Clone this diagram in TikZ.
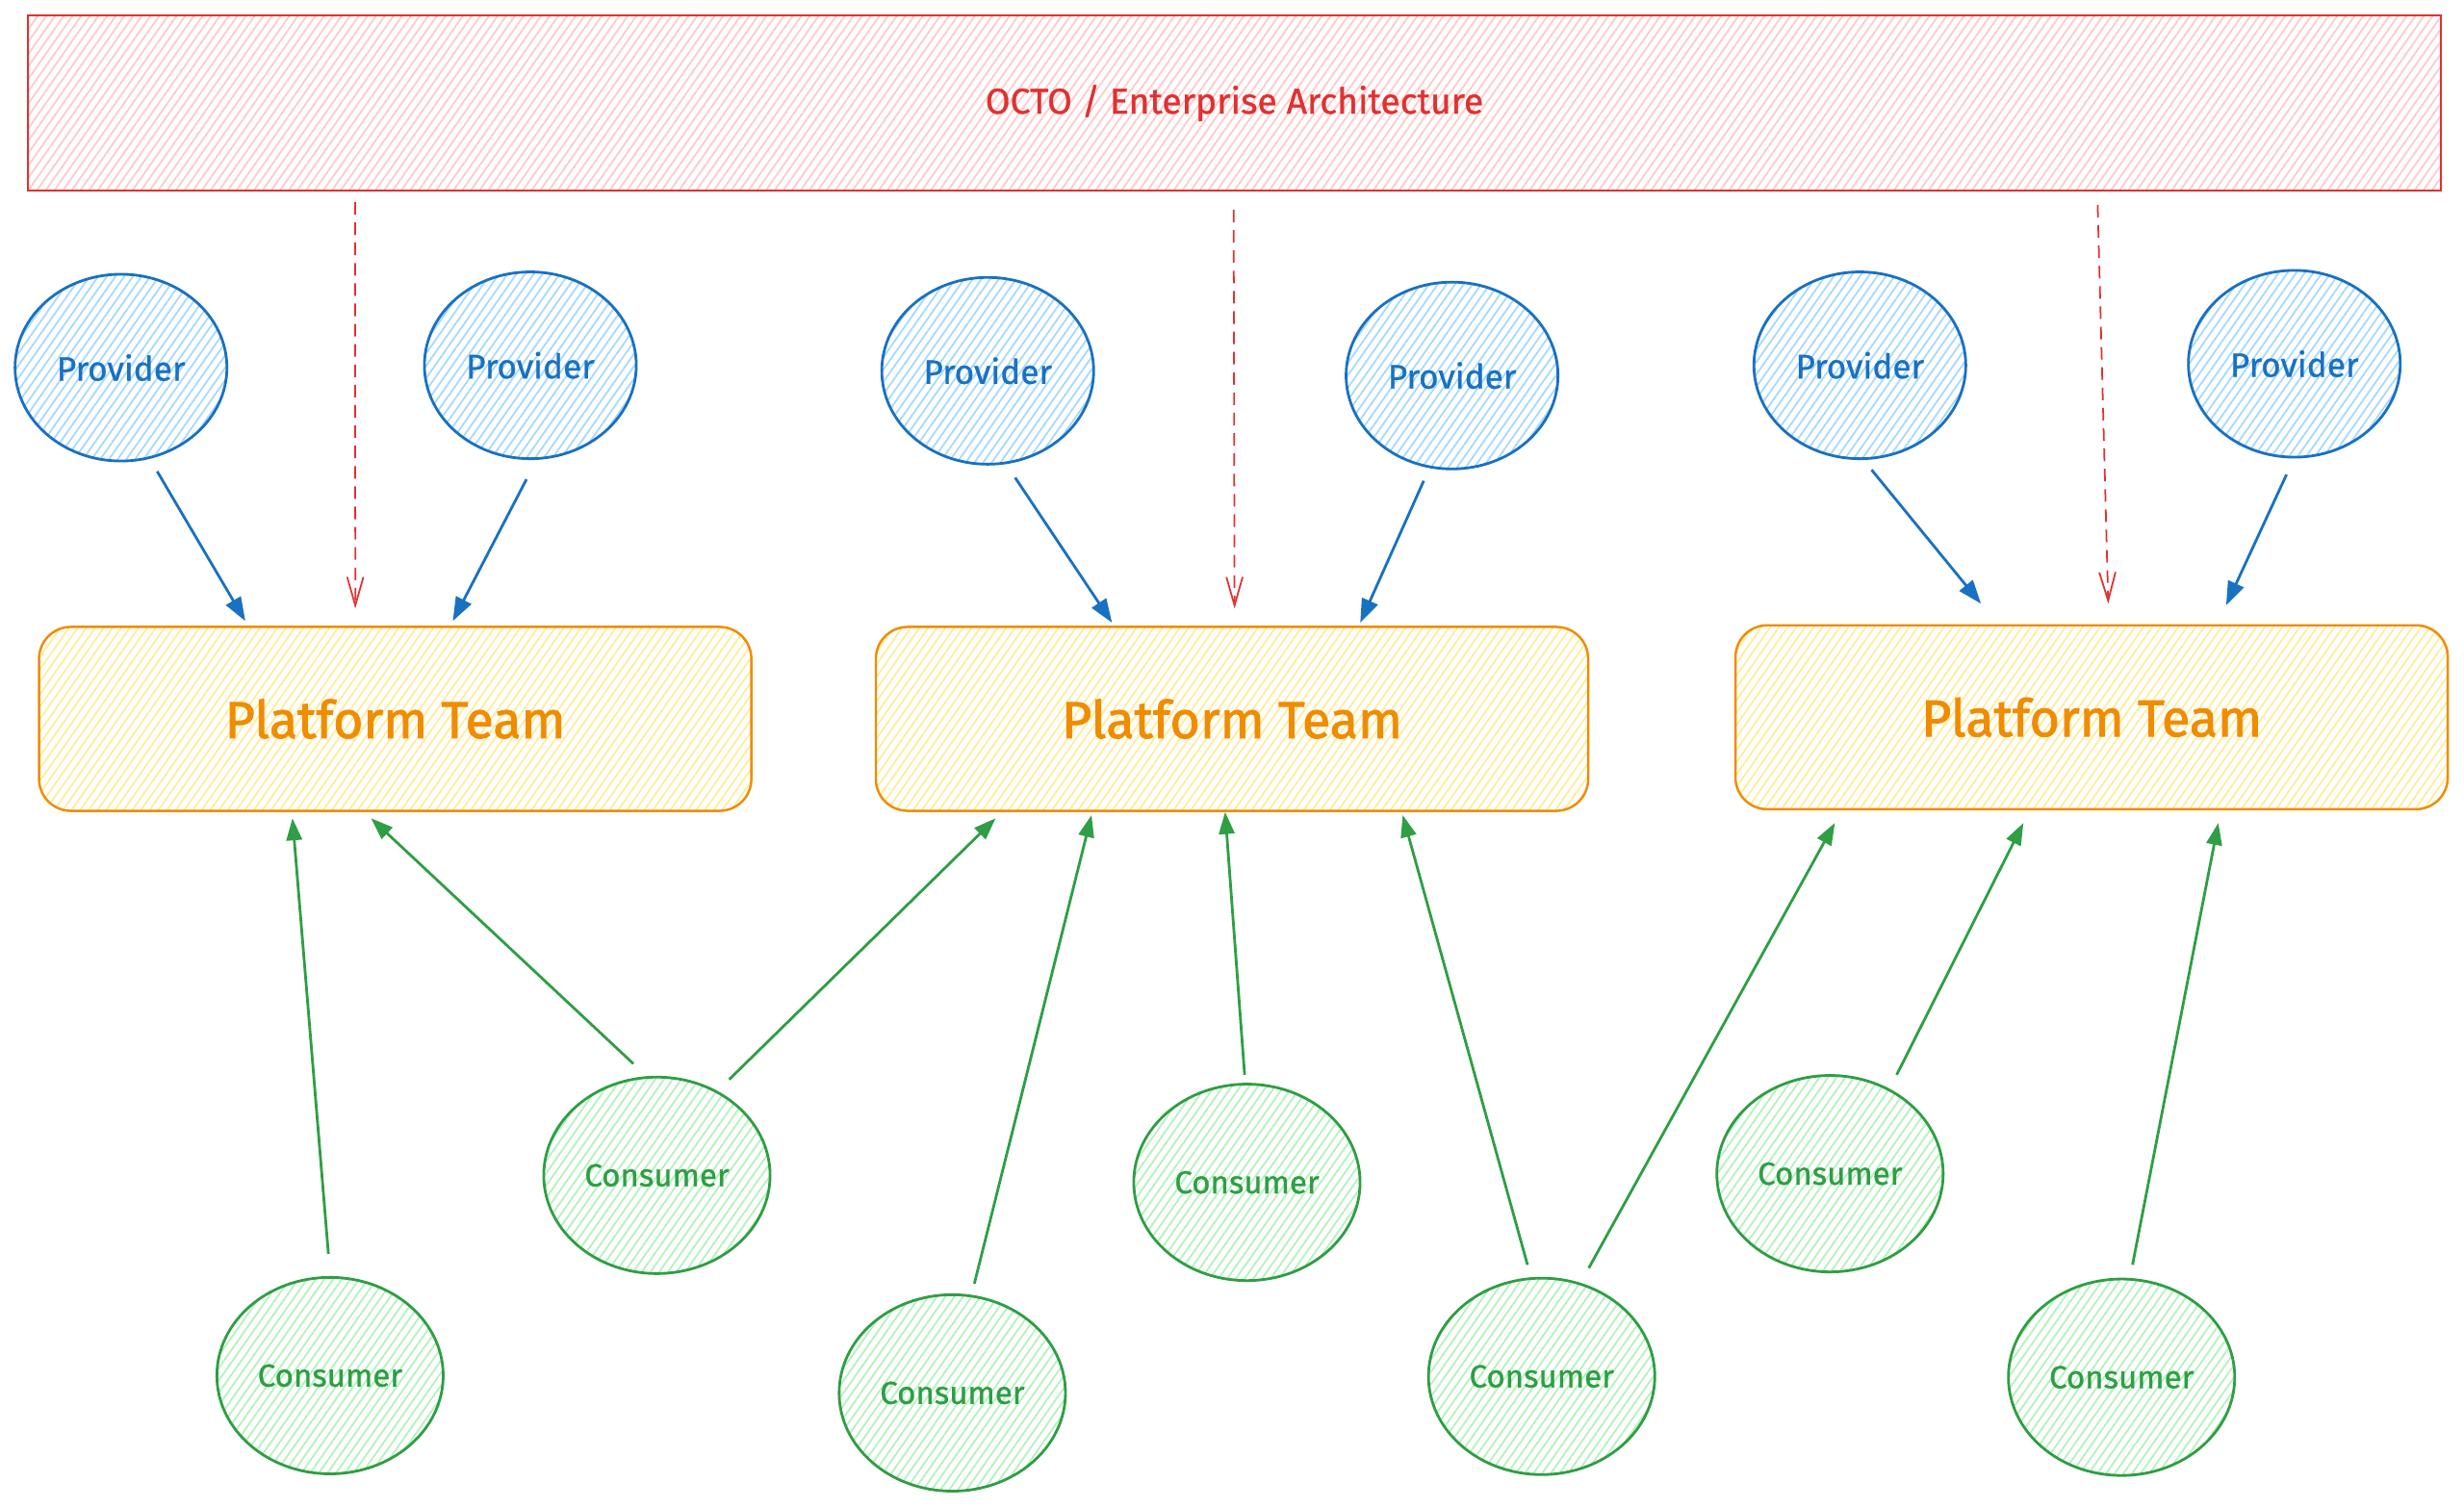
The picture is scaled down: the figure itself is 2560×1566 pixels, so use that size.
\documentclass[tikz,border=0pt]{standalone}
\usepackage{fontspec}
\setmainfont{Fira Sans}
\newfontfamily\labelfont{Fira Sans}[FakeBold=0.9]
\newfontfamily\teamfont{Fira Sans}[FakeBold=1.6]
\usetikzlibrary{calc,shapes.geometric,arrows.meta,patterns.meta}
\definecolor{redS}{HTML}{E03131}
\definecolor{redF}{HTML}{FFC9C9}
\definecolor{blueS}{HTML}{1971C2}
\definecolor{blueF}{HTML}{A5D8FF}
\definecolor{orS}{HTML}{F08C00}
\definecolor{orF}{HTML}{FFEC99}
\definecolor{grS}{HTML}{2F9E44}
\definecolor{grF}{HTML}{B2F2BB}
\begin{document}
\begin{tikzpicture}[x=0.01cm,y=-0.01cm,
  hatch/.style={pattern={Lines[angle=55,distance=2.1pt,line width=0.5pt]},pattern color=#1},
  octobox/.style={draw=redS,line width=0.6pt,hatch=redF,minimum width=25.062cm,minimum height=1.813cm,inner sep=0pt,text=redS,font=\labelfont\fontsize{10.6}{12}\selectfont},
  team/.style={draw=orS,line width=0.7pt,hatch=orF,rounded corners=0.33cm,minimum width=7.396cm,minimum height=1.91cm,inner sep=0pt,text=orS,font=\teamfont\fontsize{15.3}{18}\selectfont},
  prov/.style={ellipse,draw=blueS,line width=0.8pt,hatch=blueF,minimum width=2.2cm,minimum height=1.94cm,inner sep=0pt,text=blueS,font=\labelfont\fontsize{10}{12}\selectfont},
  cons/.style={ellipse,draw=grS,line width=0.8pt,hatch=grF,minimum width=2.35cm,minimum height=2.04cm,inner sep=0pt,text=grS,font=\labelfont\fontsize{9.4}{11}\selectfont},
  provarrow/.style={draw=blueS,line width=0.8pt,-{Triangle[length=7pt,width=5pt]}},
  consarrow/.style={draw=grS,line width=0.8pt,-{Triangle[length=6.5pt,width=4.6pt]}},
  govarrow/.style={draw=redS,line width=0.5pt,dash pattern=on 3.7pt off 2.3pt,-{Straight Barb[length=8.4pt,width=4.8pt]}}
]
\useasboundingbox (0,0) rectangle (2560,1566);

\node[octobox] (octo) at (1282.5,107) {OCTO / Enterprise Architecture};

\node[team] (B1) at (410.6,747) {Platform Team};
\node[team] (B2) at (1280,747) {Platform Team};
\node[team] (B3) at (2173.1,745.3) {Platform Team};

\node[prov] (P1) at (125.7,382) {Provider};
\node[prov] (P2) at (551,379.6) {Provider};
\node[prov] (P3) at (1026.2,385.3) {Provider};
\node[prov] (P4) at (1508.6,390.2) {Provider};
\node[prov] (P5) at (1932.3,379.6) {Provider};
\node[prov] (P6) at (2383.7,378) {Provider};

\node[cons] (C1) at (342.9,1429.4) {Consumer};
\node[cons] (C2) at (682.5,1221.3) {Consumer};
\node[cons] (C3) at (989.4,1447.4) {Consumer};
\node[cons] (C4) at (1295.5,1228.6) {Consumer};
\node[cons] (C5) at (1601.7,1430.2) {Consumer};
\node[cons] (C6) at (1901.3,1219.6) {Consumer};
\node[cons] (C7) at (2204.2,1431.1) {Consumer};

% governance (dashed)
\draw[govarrow] ($(octo.south west)+(341.2,11.4)$) -- ($(B1.north west)+(329.8,-17.9)$);
\draw[govarrow] ($(octo.south west)+(1253.9,19.4)$) -- ($(B2.north west)+(373.9,-17.9)$);
\draw[govarrow] ($(octo.south west)+(2151.6,14.4)$) -- ($(B3.north west)+(388.5,-21.2)$);

% providers
\draw[provarrow] ($(P1)+(37.6,107.8)$) -- ($(B1.north west)+(215.5,-4.9)$);
\draw[provarrow] ($(P2)+(-4,118.4)$) -- ($(B1.north west)+(431.1,-4.9)$);
\draw[provarrow] ($(P3)+(28.5,111)$) -- ($(B2.north west)+(246.6,-3.2)$);
\draw[provarrow] ($(P4)+(-29.4,109.4)$) -- ($(B2.north west)+(504.5,-3.2)$);
\draw[provarrow] ($(P5)+(12.2,108.6)$) -- ($(B3.north west)+(256.3,-21.2)$);
\draw[provarrow] ($(P6)+(-8.1,115.1)$) -- ($(B3.north west)+(511,-19.6)$);

% consumers
\draw[consarrow] ($(C1)+(-1.7,-126.5)$) -- ($(B1.south west)+(264.5,6.5)$);
\draw[consarrow] ($(C2)+(-24.5,-116)$) -- ($(B1.south west)+(346.2,6.5)$);
\draw[consarrow] ($(C2)+(75.1,-99.6)$) -- ($(B2.south west)+(125.7,6.5)$);
\draw[consarrow] ($(C3)+(22.9,-113.5)$) -- ($(B2.south west)+(225.3,3.2)$);
\draw[consarrow] ($(C4)+(-2.4,-111.8)$) -- ($(B2.south west)+(364.1,0)$);
\draw[consarrow] ($(C5)+(-14.7,-115.9)$) -- ($(B2.south west)+(548.6,3.2)$);
\draw[consarrow] ($(C5)+(49,-112.6)$) -- ($(B3.south west)+(104.5,13)$);
\draw[consarrow] ($(C6)+(69.3,-102.8)$) -- ($(B3.south west)+(300.4,13)$);
\draw[consarrow] ($(C7)+(11.4,-116.8)$) -- ($(B3.south west)+(502.9,13)$);
\end{tikzpicture}
\end{document}
